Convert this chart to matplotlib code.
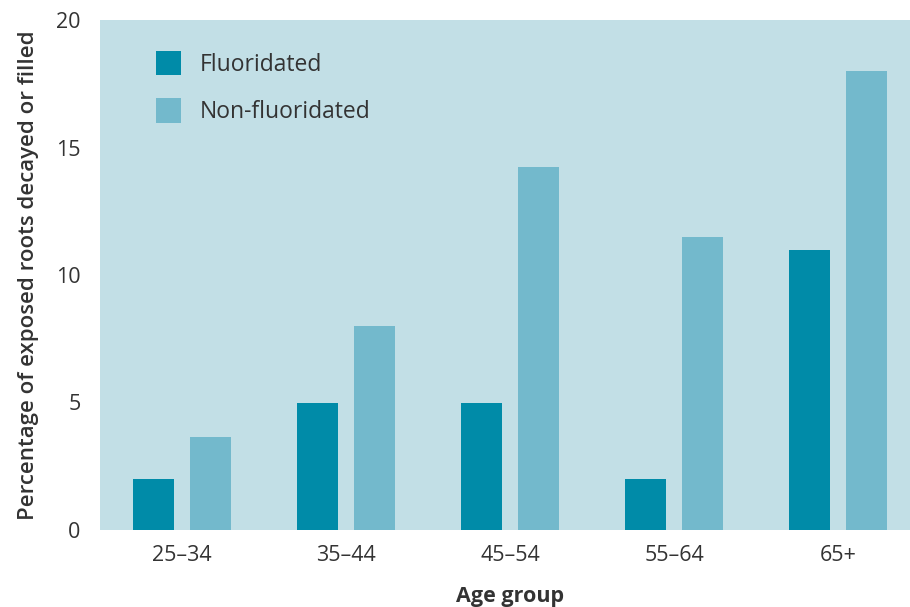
import matplotlib
matplotlib.use("Agg")
import matplotlib.pyplot as plt
import numpy as np

categories = ["25\u201334", "35\u201344", "45\u201354", "55\u201364", "65+"]
fluoridated = [2.0, 5.0, 5.0, 2.0, 11.0]
non_fluoridated = [3.65, 8.0, 14.25, 11.5, 18.0]
yticks = [0, 5, 10, 15, 20]

plt.rcParams['font.family'] = ['Open Sans', 'DejaVu Sans']
text_color = "#333333"

fig = plt.figure(figsize=(9.1, 6.07), dpi=100)
ax = fig.add_axes([100/910, 77/607, 820/910, 510/607])
ax.set_facecolor("#C2DFE6")

x = np.arange(len(categories))
w = 0.25
ax.bar(x - 0.175, fluoridated, width=w, color="#008BA8", label="Fluoridated")
ax.bar(x + 0.175, non_fluoridated, width=w, color="#73B9CC", label="Non-fluoridated")

ax.set_xlim(-0.5, len(categories) - 0.5)
ax.set_ylim(0, 20)
ax.set_yticks(yticks)
ax.set_yticklabels([str(v) for v in yticks], fontsize=15.5, color=text_color)
ax.set_xticks(x)
ax.set_xticklabels(categories, fontsize=15.5, color=text_color)
ax.tick_params(axis='both', length=0)
ax.tick_params(axis='y', pad=14)
ax.tick_params(axis='x', pad=11)
for s in ax.spines.values():
    s.set_visible(False)

ax.set_xlabel("Age group", fontsize=15.5, fontweight='bold', color=text_color, labelpad=14)
ax.set_ylabel("Percentage of exposed roots decayed or filled", fontsize=16,
              fontweight='semibold', color=text_color, labelpad=12)

leg = ax.legend(loc='upper left', bbox_to_anchor=(0.043, 0.98), frameon=False,
                fontsize=16.5, handlelength=1.1, handleheight=1.25,
                handletextpad=0.8, labelspacing=0.95, labelcolor=text_color)

fig.savefig("out.png", dpi=100)
